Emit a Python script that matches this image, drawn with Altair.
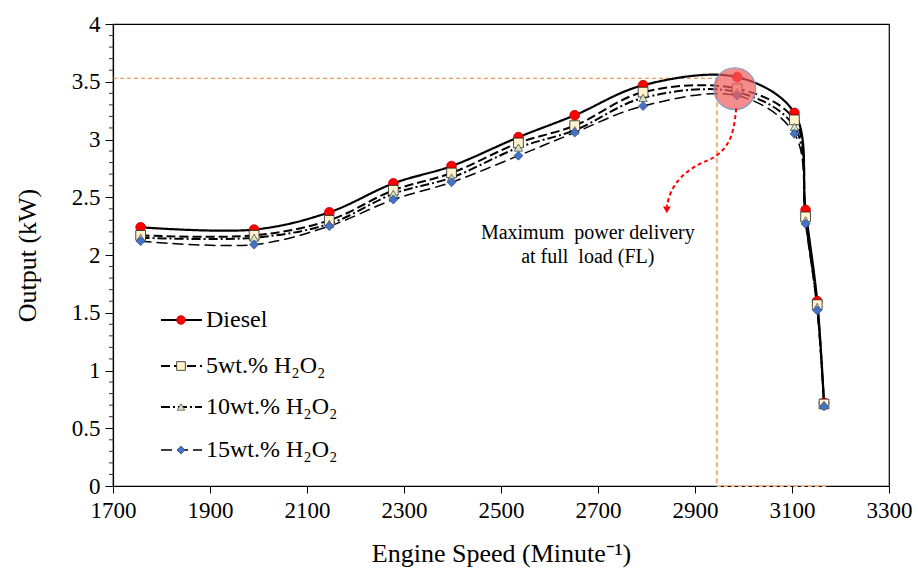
import altair as alt
import pandas as pd

# ---- data ----
speed = [1757, 1991, 2146, 2278, 2398, 2536, 2652, 2793, 2987, 3105, 3128, 3152, 3166]
diesel = [2.24, 2.22, 2.37, 2.62, 2.77, 3.02, 3.21, 3.47, 3.54, 3.23, 2.39, 1.60, 0.72]
h5 = [2.17, 2.17, 2.30, 2.56, 2.71, 2.97, 3.12, 3.41, 3.44, 3.17, 2.33, 1.57, 0.71]
h10 = [2.15, 2.15, 2.27, 2.53, 2.67, 2.93, 3.08, 3.36, 3.41, 3.11, 2.30, 1.55, 0.70]
h15 = [2.12, 2.09, 2.25, 2.48, 2.63, 2.86, 3.06, 3.29, 3.38, 3.05, 2.27, 1.52, 0.69]

series_names = ["Diesel", "5wt.% H₂O₂", "10wt.% H₂O₂", "15wt.% H₂O₂"]
legend_labels = ["Diesel", "5wt.% H₂O₂", " 10wt.% H₂O₂", "15wt.% H₂O₂"]
x_ticks = [1700, 1900, 2100, 2300, 2500, 2700, 2900, 3100, 3300]
y_ticks = [0, 0.5, 1, 1.5, 2, 2.5, 3, 3.5, 4]
y_minor = [0.1, 0.2, 0.3, 0.4, 0.6, 0.7, 0.8, 0.9, 1.1, 1.2, 1.3, 1.4, 1.6, 1.7, 1.8, 1.9,
           2.1, 2.2, 2.3, 2.4, 2.6, 2.7, 2.8, 2.9, 3.1, 3.2, 3.3, 3.4, 3.6, 3.7, 3.8, 3.9]

# annotation (max power) values
max_power = 3.53
max_speed_guide = 2945
guide_end_speed = 3170
highlight_x = [2982]
highlight_y = [3.44]
arrow_x = [2985, 2978, 2944, 2910, 2869, 2848, 2842]
arrow_y = [3.27, 3.00, 2.84, 2.80, 2.68, 2.54, 2.42]
arrow_head = (2842, 2.39)
note_lines = ["Maximum\u00a0 power delivery", "at full\u00a0 load (FL)"]
note_x = [2679, 2679]
note_y = [2.19, 1.98]

FONT = "Liberation Serif"

styles = {
    "Diesel": dict(dash=[1, 0], width=2.2, shape="circle", fill="#FF0000", stroke="#C00000", size=95, sw=0.8),
    "5wt.% H₂O₂": dict(dash=[9, 4], width=2.0, shape="square", fill="#FFF2CC", stroke="#222222", size=95, sw=0.8),
    "10wt.% H₂O₂": dict(dash=[9, 3, 2, 3], width=2.0, shape="triangle-up", fill="#D8E4BC", stroke="#555555", size=70, sw=0.8),
    "15wt.% H₂O₂": dict(dash=[11, 5], width=1.5, shape="diamond", fill="#4472C4", stroke="#2F528F", size=80, sw=0.8),
}
values = dict(zip(series_names, [diesel, h5, h10, h15]))

xs = alt.Scale(domain=[1700, 3300], nice=False, zero=False)
ys = alt.Scale(domain=[0, 4], nice=False, zero=True)

x_axis = alt.Axis(values=x_ticks, format="d", title="Engine Speed (Minute⁻¹)", grid=False,
                  tickSize=7, labelPadding=6, titlePadding=18, labelFlush=False)
y_axis = alt.Axis(values=y_ticks, format="~g", title="Output (kW)", grid=False,
                  tickSize=8, labelPadding=5, titlePadding=31, labelFlush=False)

layers = []

# guide lines
guide_df = pd.DataFrame({"x": [1700], "x2": [max_speed_guide], "y": [max_power]})
layers.append(alt.Chart(guide_df).mark_rule(color="#ED7D31", strokeDash=[4, 3], strokeWidth=1).encode(
    x=alt.X("x:Q", scale=xs, axis=x_axis), x2="x2", y=alt.Y("y:Q", scale=ys, axis=y_axis)))
vguide_df = pd.DataFrame({"x": [max_speed_guide], "y": [max_power], "y2": [0]})
layers.append(alt.Chart(vguide_df).mark_rule(color="#F4B183", strokeDash=[5, 3], strokeWidth=2).encode(
    x=alt.X("x:Q", scale=xs), y=alt.Y("y:Q", scale=ys), y2="y2"))
bguide_df = pd.DataFrame({"x": [max_speed_guide], "x2": [guide_end_speed], "y": [0]})
layers.append(alt.Chart(bguide_df).mark_rule(color="#F4B183", strokeDash=[4, 3], strokeWidth=2).encode(
    x=alt.X("x:Q", scale=xs), x2="x2", y=alt.Y("y:Q", scale=ys)))

# minor y ticks
minor_df = pd.DataFrame({"y": y_minor})
layers.append(alt.Chart(minor_df).mark_rule(color="#333333", strokeWidth=1).encode(
    y=alt.Y("y:Q", scale=ys), x=alt.value(-4), x2=alt.value(0)))

# series lines
for name in series_names:
    st = styles[name]
    df = pd.DataFrame({"speed": speed, "out": values[name]})
    layers.append(alt.Chart(df).mark_line(color="black", strokeDash=st["dash"], strokeWidth=st["width"],
                                          interpolate="catmull-rom").encode(
        x=alt.X("speed:Q", scale=xs), y=alt.Y("out:Q", scale=ys)))

# series markers
for name in series_names:
    st = styles[name]
    df = pd.DataFrame({"speed": speed, "out": values[name]})
    layers.append(alt.Chart(df).mark_point(shape=st["shape"], filled=True, fill=st["fill"], stroke=st["stroke"],
                                           strokeWidth=st["sw"], size=st["size"], opacity=1).encode(
        x=alt.X("speed:Q", scale=xs), y=alt.Y("out:Q", scale=ys)))

# highlight circle
hl_df = pd.DataFrame({"x": highlight_x, "y": highlight_y})
layers.append(alt.Chart(hl_df).mark_point(shape="circle", filled=True, fill="#F25C5C", fillOpacity=0.7,
                                          stroke="#7F9CC8", strokeWidth=1.2, size=1750).encode(
    x=alt.X("x:Q", scale=xs), y=alt.Y("y:Q", scale=ys)))

# curved arrow
arr_df = pd.DataFrame({"x": arrow_x, "y": arrow_y, "o": list(range(len(arrow_x)))})
layers.append(alt.Chart(arr_df).mark_line(color="#FF0000", strokeDash=[4, 3], strokeWidth=2,
                                          interpolate="basis").encode(
    x=alt.X("x:Q", scale=xs), y=alt.Y("y:Q", scale=ys), order="o:Q"))
head_df = pd.DataFrame({"x": [arrow_head[0]], "y": [arrow_head[1]]})
layers.append(alt.Chart(head_df).mark_point(shape="triangle-down", filled=True, color="#FF0000", size=60,
                                            opacity=1).encode(
    x=alt.X("x:Q", scale=xs), y=alt.Y("y:Q", scale=ys)))

# note text
note_df = pd.DataFrame({"x": note_x, "y": note_y, "t": note_lines})
layers.append(alt.Chart(note_df).mark_text(font=FONT, fontSize=20, color="black", align="center",
                                           baseline="middle").encode(
    x=alt.X("x:Q", scale=xs), y=alt.Y("y:Q", scale=ys), text="t:N"))

# custom legend
leg_y = [296, 342, 383, 426]
for name, lab, yy in zip(series_names, legend_labels, leg_y):
    st = styles[name]
    one = pd.DataFrame({"t": [lab]})
    base = alt.Chart(one)
    layers.append(base.mark_rule(color="black", strokeDash=st["dash"], strokeWidth=st["width"]).encode(
        x=alt.value(48), x2=alt.value(89), y=alt.value(yy)))
    layers.append(base.mark_point(shape=st["shape"], filled=True, fill=st["fill"], stroke=st["stroke"],
                                  strokeWidth=st["sw"], size=st["size"] * 0.8, opacity=1).encode(
        x=alt.value(68), y=alt.value(yy)))
    layers.append(base.mark_text(font=FONT, fontSize=24, color="black", align="left", baseline="middle").encode(
        x=alt.value(93), y=alt.value(yy), text="t:N"))

chart = alt.layer(*layers).properties(
    width=776, height=462,
    autosize=alt.AutoSizeParams(type="none"),
    padding={"left": 113, "top": 24, "right": 29, "bottom": 87},
).configure_view(stroke="black", strokeWidth=1.2).configure_axis(
    labelFont=FONT, titleFont=FONT, labelFontSize=23, titleFontSize=26, titleFontWeight="normal",
    labelColor="black", titleColor="black", domainColor="black", tickColor="black", domainWidth=1.2,
)

chart.save("out.html", embed_options={"renderer": "svg", "actions": False})
